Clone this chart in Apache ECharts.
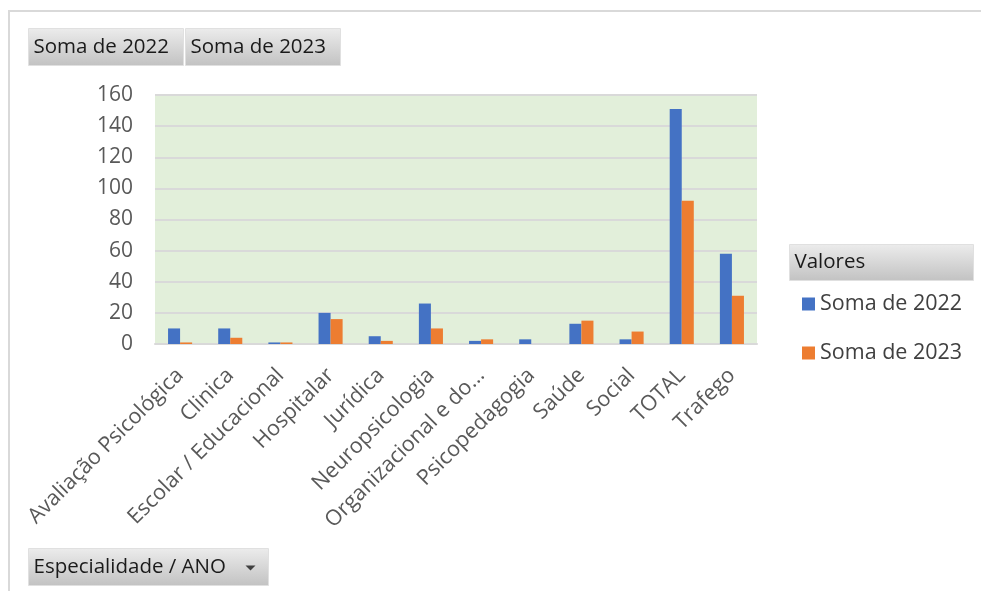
<!DOCTYPE html>
<html>
<head>
<meta charset="utf-8">
<script src="https://cdn.jsdelivr.net/npm/echarts@6/dist/echarts.min.js"></script>
<style>
html,body{margin:0;padding:0;background:#fff;}
#main{width:981px;height:591px;}
</style>
</head>
<body>
<div id="main"></div>
<script>
var categories = ['Avaliação Psicológica','Clinica','Escolar / Educacional','Hospitalar','Jurídica','Neuropsicologia','Organizacional e do...','Psicopedagogia','Saúde','Social','TOTAL','Trafego'];
var soma2022 = [10,10,1,20,5,26,2,3,13,3,151,58];
var soma2023 = [1,4,1,16,2,10,3,0,15,8,92,31];
var yTicks = [0,20,40,60,80,100,120,140,160];

var FONT = '"Open Sans", "Noto Sans", sans-serif';
var btnFill = new echarts.graphic.LinearGradient(0,0,0,1,[{offset:0,color:'#ececec'},{offset:1,color:'#c2c2c2'}]);
function btn(x,y,w,h,text){
  return {type:'group',left:x,top:y,children:[
    {type:'rect',shape:{x:0,y:0,width:w,height:h},style:{fill:btnFill,stroke:'#e0e0e0',lineWidth:1}},
    {type:'text',x:5,y:h/2,style:{text:text,font:'20.5px '+FONT,fill:'#1a1a1a',textVerticalAlign:'middle'}}
  ]};
}
var chart = echarts.init(document.getElementById('main'));
chart.setOption({
  animation:false,
  textStyle:{fontFamily:FONT},
  grid:{left:155,right:224,top:95,bottom:247,containLabel:false,show:true,backgroundColor:'#e2efda',borderWidth:0},
  xAxis:{type:'category',data:categories,
    axisLine:{show:true,lineStyle:{color:'#d9d9d9',width:2}},
    axisTick:{show:false},
    axisLabel:{interval:0,rotate:45,fontSize:21.5,color:'#595959',margin:28,fontFamily:FONT}},
  yAxis:{type:'value',min:yTicks[0],max:yTicks[yTicks.length-1],interval:20,
    axisLine:{show:false},axisTick:{show:false},
    splitLine:{lineStyle:{color:'#d9d9d9',width:2}},
    axisLabel:{fontSize:21,color:'#595959',margin:22,fontFamily:FONT}},
  legend:{orient:'vertical',left:797,top:288,itemWidth:13,itemHeight:13,itemGap:27,
    icon:'rect',textStyle:{fontSize:21.5,color:'#404040',fontFamily:FONT},
    data:['Soma de 2022','Soma de 2023']},
  series:[
    {name:'Soma de 2022',type:'bar',data:soma2022,barGap:'0%',barCategoryGap:'52%',itemStyle:{color:'#4472c4'}},
    {name:'Soma de 2023',type:'bar',data:soma2023,itemStyle:{color:'#ed7d31'}}
  ],
  graphic:[
    {type:'line',shape:{x1:8,y1:11,x2:981,y2:11},style:{stroke:'#d9d9d9',lineWidth:2}},
    {type:'line',shape:{x1:9,y1:11,x2:9,y2:591},style:{stroke:'#d9d9d9',lineWidth:2}},
    btn(28,28,155,37,'Soma de 2022'),
    btn(185,28,155,37,'Soma de 2023'),
    btn(789,244,184,36,'Valores'),
    {type:'group',left:28,top:548,children:[
      {type:'rect',shape:{x:0,y:0,width:240,height:37},style:{fill:btnFill,stroke:'#e0e0e0',lineWidth:1}},
      {type:'text',x:5,y:18.5,style:{text:'Especialidade / ANO',font:'20.5px '+FONT,fill:'#1a1a1a',textVerticalAlign:'middle'}},
      {type:'polygon',shape:{points:[[217,17],[227,17],[222,22]]},style:{fill:'#404040'}}
    ]}
  ]
});
</script>
</body>
</html>
